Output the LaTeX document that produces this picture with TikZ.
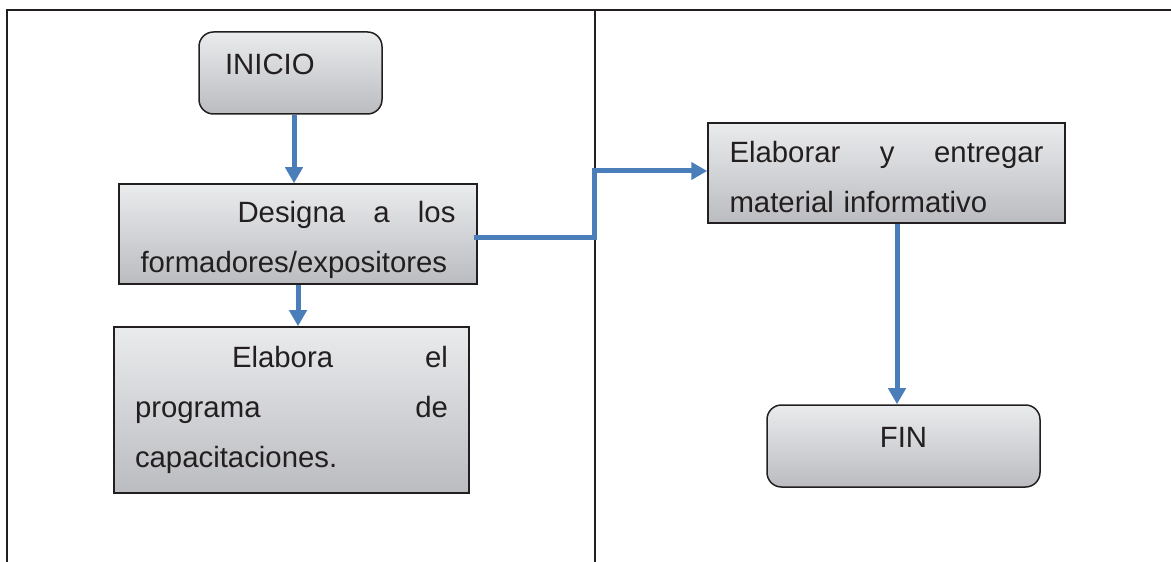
\documentclass[tikz,border=0pt]{standalone}
\usepackage{fontspec}
\setmainfont{Liberation Sans}
\usetikzlibrary{arrows.meta}

\definecolor{flujo}{RGB}{74,126,187}
\definecolor{cajaarriba}{RGB}{234,235,237}
\definecolor{cajaabajo}{RGB}{187,188,192}
\definecolor{borde}{RGB}{35,31,32}

\tikzset{
  caja/.style={draw=borde, line width=0.03cm, top color=cajaarriba, bottom color=cajaabajo, inner sep=0pt},
  inicial/.style={caja, rounded corners=0.29cm, minimum height=1.64cm, text height=0.45cm, text depth=0.39cm},
  flecha/.style={flujo, line width=0.1cm, -{Triangle[width=0.34cm,length=0.32cm]}},
  texto/.style={font=\fontsize{16.7}{28.5}\selectfont, text=borde}
}

\begin{document}
\begin{tikzpicture}
    \useasboundingbox (0,0) rectangle (23.42,-11.24);
    % marco de la tabla
    \draw[borde, line width=0.04cm] (0.14,-11.24) -- (0.14,-0.2) -- (23.42,-0.2);
    \draw[borde, line width=0.04cm] (11.9,-0.2) -- (11.9,-11.24);
    % cajas
    \node[inicial, texto, minimum width=3.66cm, text width=2.62cm, align=left] (inicio) at (5.81,-1.46) {INICIO};
    \node[caja, texto, minimum width=7.16cm, minimum height=2cm, text width=6.3cm, align=left, text height=0.66cm] (designa) at (5.96,-4.68)
        {\hspace*{1.94cm}Designa\hfill a\hfill los\\formadores/expositores};
    \node[caja, texto, minimum width=7.1cm, minimum height=3.32cm, text width=6.26cm, align=left] (elabora) at (5.83,-8.2)
        {\hspace*{1.94cm}Elabora\hfill el\\programa\hfill de\\capacitaciones.};
    \node[caja, texto, minimum width=7.14cm, minimum height=2cm, text width=6.28cm, align=left, text height=0.58cm] (elaborar) at (17.73,-3.46)
        {Elaborar\hfill y\hfill entregar\\material informativo};
    \node[inicial, texto, minimum width=5.46cm, align=center] (fin) at (18.07,-8.92) {FIN};
    % flechas
    \coordinate (quiebre) at (11.88,-3.42);
    \draw[flecha] ([xshift=0.07cm]inicio.south) -- ([xshift=0.07cm]inicio.south |- designa.north);
    \draw[flecha] (designa.south) -- (designa.south |- elabora.north);
    \draw[flecha] ([shift={(-0.08,-0.08)}]designa.east) -| (quiebre) -- (quiebre -| elaborar.west);
    \draw[flecha] ([xshift=0.21cm]elaborar.south) -- ([xshift=0.21cm]elaborar.south |- fin.north);
\end{tikzpicture}
\end{document}
